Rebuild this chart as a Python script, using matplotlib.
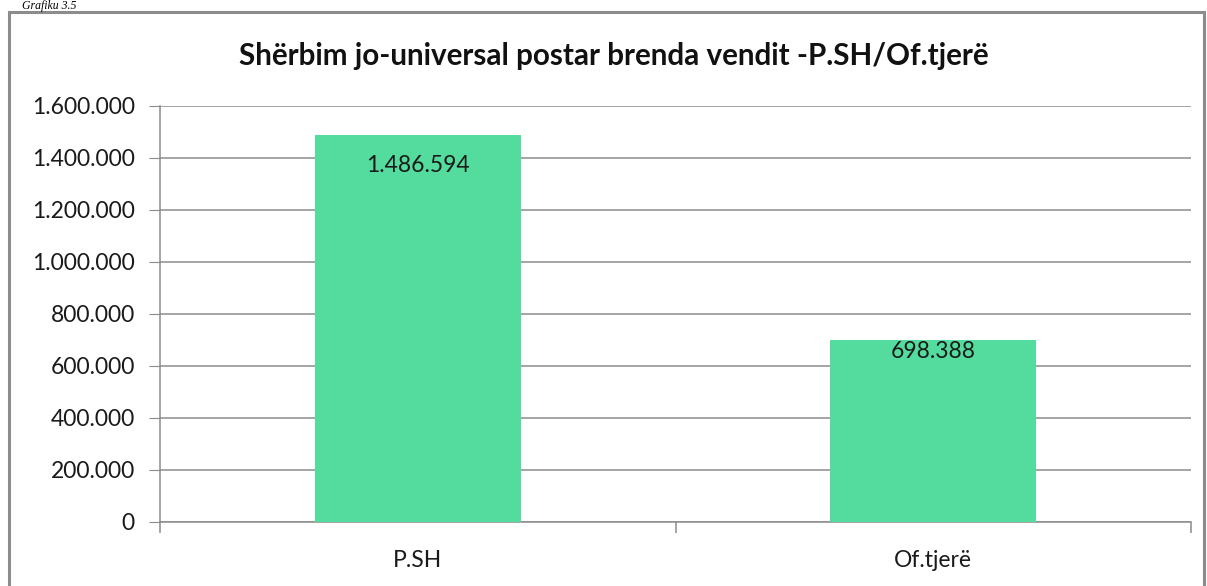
import matplotlib
matplotlib.use("Agg")
import matplotlib.pyplot as plt
from matplotlib.patches import Rectangle
from matplotlib.ticker import FuncFormatter, MultipleLocator

categories = ["P.SH", "Of.tjerë"]
values = [1486594, 698388]
title = "Shërbim jo-universal postar brenda vendit -P.SH/Of.tjerë"
caption = "Grafiku 3.5"

W, H = 1207, 586
fig = plt.figure(figsize=(W / 100, H / 100), dpi=100)
plt.rcParams['font.family'] = ['Lato', 'DejaVu Sans']

FS = 16.5

# outer chart frame
fig.patches.append(Rectangle((9 / W, -0.05), (1204 - 9) / W, 1 - 12 / H + 0.05,
                             transform=fig.transFigure, fill=False,
                             edgecolor="#8c8c8c", linewidth=2.2))
fig.text(22 / W, 1 - 0.5 / H, caption, fontsize=8.5, family="Liberation Serif",
         style="italic", va="top", ha="left")

ax = fig.add_axes([160 / W, 1 - 522 / H, (1191 - 160) / W, (522 - 106) / H])
x = list(range(len(categories)))
bars = ax.bar(x, values, width=0.4, color="#53dc9e", zorder=3)
ax.set_xlim(-0.5, len(categories) - 0.5)
ax.set_ylim(0, 1600000)
ax.yaxis.set_major_locator(MultipleLocator(200000))
ax.yaxis.set_major_formatter(FuncFormatter(lambda v, p: f"{int(v):,}".replace(",", ".")))
ax.grid(axis="y", color="#8c8c8c", linewidth=1.1, zorder=0)
for s in ["top", "right"]:
    ax.spines[s].set_visible(False)
for s in ["left", "bottom"]:
    ax.spines[s].set_color("#8c8c8c")
    ax.spines[s].set_linewidth(1.1)
ax.tick_params(axis="y", length=8, color="#8c8c8c", labelsize=FS, pad=10, labelcolor="#1a1a1a")
ax.set_xticks(x)
ax.set_xticklabels(categories, fontsize=FS, color="#1a1a1a")
ax.set_xticks([-0.5, 0.5, 1.5], minor=True)
ax.tick_params(axis="x", which="major", length=0, pad=20)
ax.tick_params(axis="x", which="minor", length=8, color="#8c8c8c", width=1.1)

offsets = [-30, -11]
for xi, v, off in zip(x, values, offsets):
    ax.annotate(f"{v:,}".replace(",", "."), (xi, v), xytext=(0, off),
                textcoords="offset pixels", ha="center", va="center",
                fontsize=FS, color="#1a1a1a", zorder=4)

fig.text(614 / W, 1 - 56 / H, title, ha="center", va="center",
         fontsize=21.3, fontweight="bold", color="#111111")

fig.savefig("out.png", dpi=100)
